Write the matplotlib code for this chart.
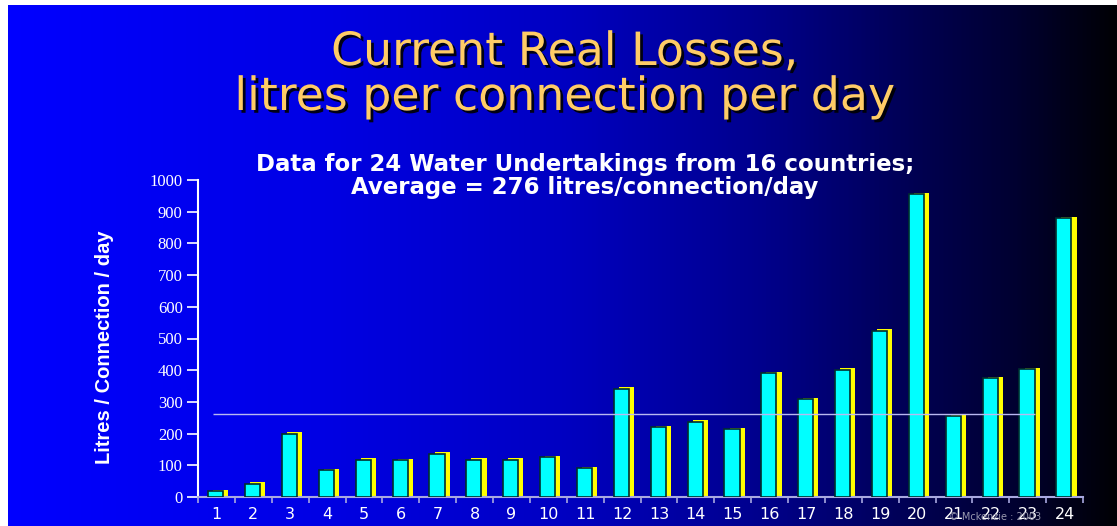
import numpy as np
import matplotlib
matplotlib.use("Agg")
import matplotlib.pyplot as plt
from matplotlib.colors import LinearSegmentedColormap
import matplotlib.patheffects as pe

# undertakings 1..24, real losses in litres / connection / day
undertakings = list(range(1, 25))
losses = [18, 42, 200, 85, 118, 116, 137, 118, 118, 125, 90, 342,
          220, 237, 214, 390, 309, 402, 525, 955, 255, 375, 403, 880]
avg_line = 262          # where the average line sits on the slide
yticks = list(range(0, 1001, 100))

title = "Current Real Losses,\nlitres per connection per day"
subtitle = "Data for 24 Water Undertakings from 16 countries;\nAverage = 276 litres/connection/day"
ylabel = "Litres / Connection / day"
credit = "\u00a9 Mckenzie : 2003"

W, H = 1117, 526
fig = plt.figure(figsize=(W / 100, H / 100), dpi=100, facecolor="white")

# slide background: horizontal blue -> black gradient
bg = fig.add_axes([8 / W, 0, 1 - 8 / W, 521 / H])
bg.set_axis_off()
cmap = LinearSegmentedColormap.from_list("slide", [
    (0.0, (0, 0, 1.0)), (0.27, (0, 0, 0.90)), (0.5, (0, 0, 0.76)),
    (0.68, (0, 0, 0.55)), (0.82, (0, 0, 0.32)), (0.91, (0, 0, 0.19)),
    (1.0, (0, 0, 0.02))])
bg.imshow(np.linspace(0, 1, 512)[None, :], aspect="auto", cmap=cmap,
          extent=[0, 1, 0, 1])

# title with drop shadow
fig.text(565 / W, 1 - 75 / H, title, ha="center", va="center",
         fontsize=33, color="#ffcc66", family="DejaVu Sans", linespacing=1.0,
         path_effects=[pe.withSimplePatchShadow(offset=(2, -2), shadow_rgbFace="black", alpha=0.9)])

fig.text(585 / W, 1 - 176 / H, subtitle, ha="center", va="center",
         fontsize=16.5, fontweight="bold", color="white", family="DejaVu Sans",
         linespacing=1.05)

ax = fig.add_axes([198 / W, 29 / H, 885 / W, 317 / H])
ax.set_facecolor("none")

x = np.array(undertakings)
vals = np.array(losses)
# yellow 3-D side behind each cyan bar
ax.bar(x + 0.12, vals + 4.5, width=0.41, color="#ffff00", linewidth=0, zorder=2)
ax.bar(x - 0.02, vals, width=0.41, color="#00ffff", edgecolor="#002e2e",
       linewidth=1.2, zorder=3)

ax.hlines(avg_line, 0.9, 23.2, color="#b8b8f0", linewidth=1, zorder=4)

ax.set_xlim(0.5, 24.5)
ax.set_ylim(0, 1000)
ax.set_yticks(yticks)
ax.set_xticks(x)
ax.set_xticks(np.arange(0.5, 25, 1), minor=True)

for s in ["top", "right"]:
    ax.spines[s].set_visible(False)
ax.spines["left"].set_color("white")
ax.spines["left"].set_linewidth(1.5)
ax.spines["bottom"].set_color("#a8a8e0")
ax.spines["bottom"].set_linewidth(1.5)

ax.tick_params(axis="y", colors="white", length=8, width=1.2, pad=3,
               labelsize=12)
for lab in ax.get_yticklabels():
    lab.set_family("Liberation Serif")
ax.tick_params(axis="x", which="major", length=0, pad=7, labelsize=11.5,
               labelcolor="white")
ax.tick_params(axis="x", which="minor", length=4, width=1.2, color="#a8a8e0")

fig.text(105 / W, 1 - 347 / H, ylabel, rotation=90, ha="center", va="center",
         fontsize=14.5, fontweight="bold", color="white",
         family="Liberation Sans")

fig.text(995 / W, 1 - 517 / H, credit, ha="center", va="center",
         fontsize=7, color="#9a9ab0")

fig.savefig("out.png", dpi=100, facecolor="white")
